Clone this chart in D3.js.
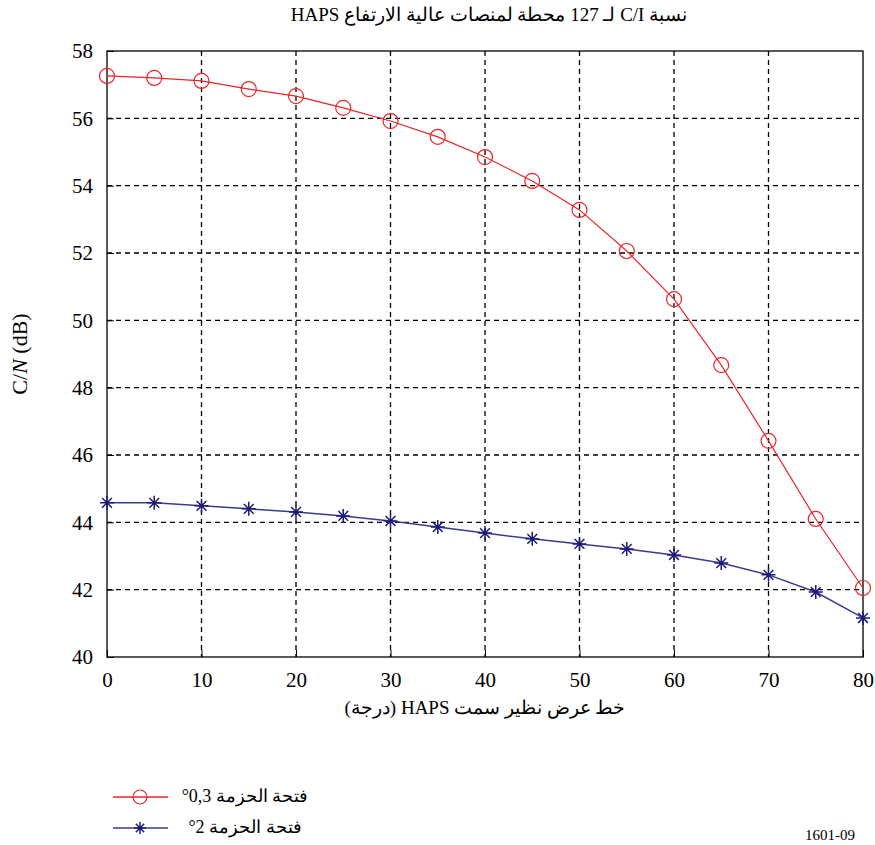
<!DOCTYPE html>
<html>
<head>
<meta charset="utf-8">
<script src="https://cdn.jsdelivr.net/npm/d3@7"></script>
<style>
  body { margin: 0; background: #fff; }
  text { font-family: "Liberation Serif", "DejaVu Serif", serif; }
</style>
</head>
<body>
<svg id="canvas" width="875" height="845"></svg>
<script>
// data
const azimuth = [0, 5, 10, 15, 20, 25, 30, 35, 40, 45, 50, 55, 60, 65, 70, 75, 80];
const beam03 = [57.26, 57.2, 57.11, 56.87, 56.66, 56.31, 55.92, 55.45, 54.85, 54.14, 53.28, 52.06, 50.63, 48.67, 46.42, 44.1, 42.05];
const beam2 = [44.58, 44.58, 44.49, 44.4, 44.31, 44.19, 44.04, 43.86, 43.68, 43.51, 43.36, 43.21, 43.03, 42.79, 42.44, 41.93, 41.16];
const xTicks = [0, 10, 20, 30, 40, 50, 60, 70, 80];
const yTicks = [40, 42, 44, 46, 48, 50, 52, 54, 56, 58];

const titleText = "نسبة C/I لـ 127 محطة لمنصات عالية الارتفاع HAPS";
const xLabel = "خط عرض نظير سمت HAPS (درجة)";
const legendNames = ["فتحة الحزمة 0,3°", "فتحة الحزمة 2°"];

let svg = d3.select("#canvas");

let pLeft = 107, pRight = 863, pTop = 51, pBottom = 657;
let x = d3.scaleLinear().domain([0, 80]).range([pLeft, pRight]);
let y = d3.scaleLinear().domain([40, 58]).range([pBottom, pTop]);

const red = "#e8262a";
const blue = "#3b3b8e";
const navy = "#1c1c78";

// grid lines (dashed)
svg.append("g")
  .selectAll("line")
  .data(xTicks.slice(1, -1))
  .enter().append("line")
  .attr("x1", d => x(d)).attr("x2", d => x(d))
  .attr("y1", pTop).attr("y2", pBottom)
  .attr("stroke", "#000").attr("stroke-width", 1.3)
  .attr("stroke-dasharray", "5,4");

svg.append("g")
  .selectAll("line")
  .data(yTicks.slice(1, -1))
  .enter().append("line")
  .attr("x1", pLeft).attr("x2", pRight)
  .attr("y1", d => y(d)).attr("y2", d => y(d))
  .attr("stroke", "#000").attr("stroke-width", 1.3)
  .attr("stroke-dasharray", "5,4");

// frame
svg.append("rect")
  .attr("x", pLeft).attr("y", pTop)
  .attr("width", pRight - pLeft).attr("height", pBottom - pTop)
  .attr("fill", "none").attr("stroke", "#000").attr("stroke-width", 1.3);

// axes with inward ticks
let xAxis = d3.axisBottom(x).tickValues(xTicks).tickSize(-7).tickPadding(15);
let gx = svg.append("g").attr("transform", `translate(0,${pBottom})`).call(xAxis);
gx.select(".domain").remove();
gx.selectAll("text").attr("font-size", 21).attr("font-family", "Liberation Serif").attr("fill", "#000");

let yAxis = d3.axisLeft(y).tickValues(yTicks).tickSize(-7).tickPadding(14);
let gy = svg.append("g").attr("transform", `translate(${pLeft},0)`).call(yAxis);
gy.select(".domain").remove();
gy.selectAll("text").attr("font-size", 21).attr("font-family", "Liberation Serif").attr("fill", "#000");

let line = d3.line().x((d, i) => x(azimuth[i])).y(d => y(d));

// red series with circles
svg.append("path").datum(beam03)
  .attr("d", line).attr("fill", "none").attr("stroke", red).attr("stroke-width", 1.2);
svg.append("g").selectAll("circle")
  .data(beam03).enter().append("circle")
  .attr("cx", (d, i) => x(azimuth[i])).attr("cy", d => y(d))
  .attr("r", 7.5).attr("fill", "none").attr("stroke", red).attr("stroke-width", 1.2);

// blue series with asterisks
let star = (g, s) => {
  g.append("path")
    .attr("d", `M${-s},0H${s}M0,${-s}V${s}M${-s*0.7},${-s*0.7}L${s*0.7},${s*0.7}M${-s*0.7},${s*0.7}L${s*0.7},${-s*0.7}`)
    .attr("stroke", navy).attr("stroke-width", 1.5).attr("fill", "none");
};
svg.append("path").datum(beam2)
  .attr("d", line).attr("fill", "none").attr("stroke", blue).attr("stroke-width", 1.5);
svg.append("g").selectAll("g")
  .data(beam2).enter().append("g")
  .attr("transform", (d, i) => `translate(${x(azimuth[i])},${y(d)})`)
  .each(function () { star(d3.select(this), 7); });

// titles
svg.append("text")
  .attr("x", 489).attr("y", 21)
  .attr("text-anchor", "middle").attr("direction", "rtl")
  .attr("font-size", 19)
  .text(titleText);

svg.append("text")
  .attr("x", 485).attr("y", 714)
  .attr("text-anchor", "middle").attr("direction", "rtl")
  .attr("font-size", 19)
  .text(xLabel);

let yl = svg.append("text")
  .attr("transform", "translate(27,354) rotate(-90)")
  .attr("text-anchor", "middle").attr("font-size", 22);
yl.append("tspan").text("C/");
yl.append("tspan").attr("font-style", "italic").text("N");
yl.append("tspan").text(" (dB)");

// legend
let legend = svg.append("g");
legendNames.forEach((name, i) => {
  let ly = 797 + i * 31;
  legend.append("line")
    .attr("x1", 113).attr("x2", 168).attr("y1", ly).attr("y2", ly)
    .attr("stroke", i == 0 ? red : blue).attr("stroke-width", 1.5);
  if (i == 0) {
    legend.append("circle").attr("cx", 140).attr("cy", ly).attr("r", 7)
      .attr("fill", "none").attr("stroke", red).attr("stroke-width", 1.2);
  } else {
    star(legend.append("g").attr("transform", `translate(140,${ly})`), 6);
  }
  legend.append("text")
    .attr("x", 245).attr("y", ly + 5)
    .attr("text-anchor", "middle").attr("direction", "rtl")
    .attr("font-size", 18)
    .text(name);
});

svg.append("text")
  .attr("x", 830).attr("y", 840)
  .attr("text-anchor", "middle").attr("font-size", 15)
  .text("1601-09");
</script>
</body>
</html>
